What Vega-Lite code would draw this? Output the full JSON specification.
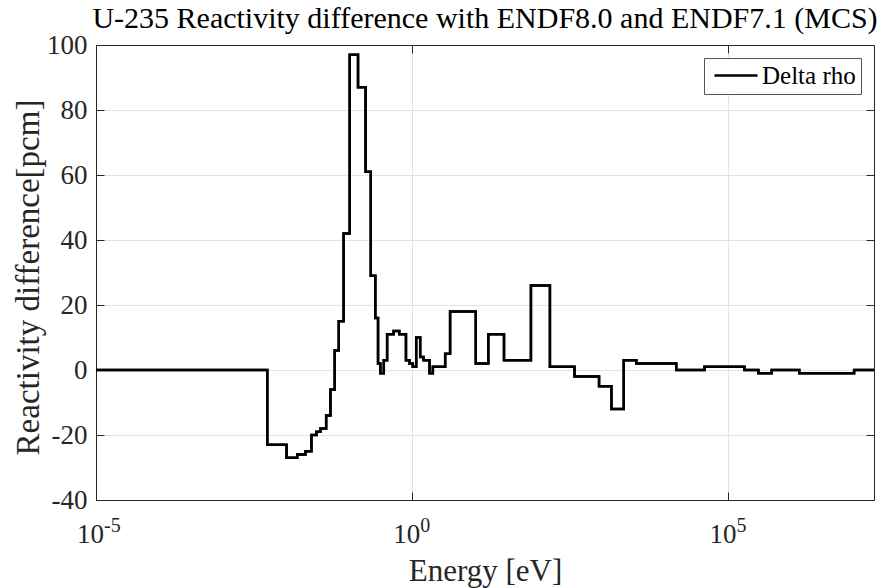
{
  "$schema": "https://vega.github.io/schema/vega-lite/v6.json",
  "width": 778,
  "height": 455,
  "autosize": {"type": "none"},
  "padding": {"left": 96, "top": 45, "right": 13, "bottom": 88},
  "background": "white",
  "title": {
    "text": "U-235 Reactivity difference with ENDF8.0 and ENDF7.1 (MCS)",
    "font": "Liberation Serif, Times New Roman, serif",
    "fontSize": 30,
    "fontWeight": "normal",
    "color": "black",
    "anchor": "middle",
    "offset": -3
  },
  "config": {
    "view": {"stroke": "#262626", "strokeWidth": 1},
    "axis": {
      "labelFont": "Liberation Serif, Times New Roman, serif",
      "labelFontSize": 27,
      "labelColor": "#262626",
      "titleFont": "Liberation Serif, Times New Roman, serif",
      "titleFontSize": 31,
      "titleFontWeight": "normal",
      "titleColor": "#262626",
      "domainColor": "#262626",
      "tickColor": "#262626",
      "tickWidth": 1,
      "gridColor": "#e3e3e3",
      "gridWidth": 1
    },
    "legend": {
      "labelFont": "Liberation Serif, Times New Roman, serif",
      "labelFontSize": 25,
      "labelColor": "black"
    }
  },
  "datasets": {
    "curve": [
      {"E": 0.00001, "rho": 0, "series": "Delta rho"},
      {"E": 0.00511, "rho": -23, "series": "Delta rho"},
      {"E": 0.0103, "rho": -27, "series": "Delta rho"},
      {"E": 0.0152, "rho": -26, "series": "Delta rho"},
      {"E": 0.0205, "rho": -25, "series": "Delta rho"},
      {"E": 0.0255, "rho": -20, "series": "Delta rho"},
      {"E": 0.0306, "rho": -19, "series": "Delta rho"},
      {"E": 0.0354, "rho": -18, "series": "Delta rho"},
      {"E": 0.0436, "rho": -14, "series": "Delta rho"},
      {"E": 0.0509, "rho": -6, "series": "Delta rho"},
      {"E": 0.0594, "rho": 6, "series": "Delta rho"},
      {"E": 0.0689, "rho": 15, "series": "Delta rho"},
      {"E": 0.0822, "rho": 42, "series": "Delta rho"},
      {"E": 0.1026, "rho": 97, "series": "Delta rho"},
      {"E": 0.139, "rho": 87, "series": "Delta rho"},
      {"E": 0.183, "rho": 61, "series": "Delta rho"},
      {"E": 0.221, "rho": 29, "series": "Delta rho"},
      {"E": 0.261, "rho": 16, "series": "Delta rho"},
      {"E": 0.288, "rho": 2, "series": "Delta rho"},
      {"E": 0.313, "rho": -1, "series": "Delta rho"},
      {"E": 0.355, "rho": 3, "series": "Delta rho"},
      {"E": 0.401, "rho": 11, "series": "Delta rho"},
      {"E": 0.507, "rho": 12, "series": "Delta rho"},
      {"E": 0.624, "rho": 11, "series": "Delta rho"},
      {"E": 0.796, "rho": 3, "series": "Delta rho"},
      {"E": 0.906, "rho": 2, "series": "Delta rho"},
      {"E": 1.02, "rho": 1, "series": "Delta rho"},
      {"E": 1.156, "rho": 10, "series": "Delta rho"},
      {"E": 1.337, "rho": 4, "series": "Delta rho"},
      {"E": 1.507, "rho": 3, "series": "Delta rho"},
      {"E": 1.875, "rho": -1, "series": "Delta rho"},
      {"E": 2.118, "rho": 1, "series": "Delta rho"},
      {"E": 3.32, "rho": 5, "series": "Delta rho"},
      {"E": 3.97, "rho": 18, "series": "Delta rho"},
      {"E": 10.1, "rho": 2, "series": "Delta rho"},
      {"E": 15.96, "rho": 11, "series": "Delta rho"},
      {"E": 28.25, "rho": 3, "series": "Delta rho"},
      {"E": 75.3, "rho": 26, "series": "Delta rho"},
      {"E": 150.3, "rho": 1, "series": "Delta rho"},
      {"E": 368, "rho": -2, "series": "Delta rho"},
      {"E": 899, "rho": -5, "series": "Delta rho"},
      {"E": 1413, "rho": -12, "series": "Delta rho"},
      {"E": 2208, "rho": 3, "series": "Delta rho"},
      {"E": 3499, "rho": 2, "series": "Delta rho"},
      {"E": 14962, "rho": 0, "series": "Delta rho"},
      {"E": 41783, "rho": 1, "series": "Delta rho"},
      {"E": 178649, "rho": 0, "series": "Delta rho"},
      {"E": 297167, "rho": -1, "series": "Delta rho"},
      {"E": 481948, "rho": 0, "series": "Delta rho"},
      {"E": 1318257, "rho": -1, "series": "Delta rho"},
      {"E": 9705099, "rho": 0, "series": "Delta rho"},
      {"E": 20000000, "rho": 0, "series": "Delta rho"}
    ],
    "ticklabels": [
      {"E": 0.00001, "base": "10", "exp": "-5"},
      {"E": 1, "base": "10", "exp": "0"},
      {"E": 100000, "base": "10", "exp": "5"}
    ]
  },
  "layer": [
    {
      "data": {"name": "curve"},
      "mark": {"type": "line", "interpolate": "step-after", "strokeWidth": 2.5, "clip": true},
      "encoding": {
        "x": {
          "field": "E",
          "type": "quantitative",
          "scale": {"type": "log", "domain": [0.00001, 20000000], "nice": false},
          "axis": {
            "orient": "bottom",
            "title": "Energy [eV]",
            "values": [0.00001, 1, 100000],
            "labels": false,
            "tickSize": -8,
            "titleY": 80,
            "titleBaseline": "alphabetic",
            "grid": true
          }
        },
        "y": {
          "field": "rho",
          "type": "quantitative",
          "scale": {"domain": [-40, 100], "nice": false},
          "axis": {
            "orient": "left",
            "title": "Reactivity difference[pcm]",
            "titleFontSize": 33,
            "values": [-40, -20, 0, 20, 40, 60, 80, 100],
            "labelExpr": "toString(datum.value)",
            "tickSize": -8,
            "labelPadding": 17,
            "titleX": -68,
            "titleY": 232,
            "titleBaseline": "middle",
            "grid": true
          }
        },
        "color": {
          "field": "series",
          "type": "nominal",
          "scale": {"range": ["black"]},
          "legend": {
            "title": null,
            "orient": "top-right",
            "offset": 13,
            "symbolType": "M-0.7,0H3.6",
            "symbolSize": 400,
            "symbolStrokeWidth": 2.5,
            "labelOffset": 28,
            "padding": 5,
            "strokeColor": "#555555",
            "fillColor": "white"
          }
        }
      }
    },
    {
      "data": {"name": "curve"},
      "mark": {"type": "line", "interpolate": "step-after", "strokeWidth": 2.5, "color": "black", "clip": true},
      "encoding": {
        "x": {
          "field": "E",
          "type": "quantitative",
          "axis": {
            "orient": "top",
            "title": null,
            "values": [0.00001, 1, 100000],
            "labels": false,
            "tickSize": -8,
            "grid": false
          }
        },
        "y": {
          "field": "rho",
          "type": "quantitative",
          "axis": {
            "orient": "right",
            "title": null,
            "values": [-40, -20, 0, 20, 40, 60, 80, 100],
            "labels": false,
            "tickSize": -8,
            "grid": false
          }
        }
      }
    },
    {
      "data": {"name": "ticklabels"},
      "mark": {"type": "text", "font": "Liberation Serif, Times New Roman, serif", "fontSize": 27, "color": "#262626", "align": "right", "baseline": "alphabetic", "dx": 8, "dy": 43},
      "encoding": {
        "x": {"field": "E", "type": "quantitative", "axis": null},
        "y": {"datum": -40, "type": "quantitative", "axis": null},
        "text": {"field": "base"}
      }
    },
    {
      "data": {"name": "ticklabels"},
      "mark": {"type": "text", "font": "Liberation Serif, Times New Roman, serif", "fontSize": 20, "color": "#262626", "align": "left", "baseline": "alphabetic", "dx": 8, "dy": 32},
      "encoding": {
        "x": {"field": "E", "type": "quantitative", "axis": null},
        "y": {"datum": -40, "type": "quantitative", "axis": null},
        "text": {"field": "exp"}
      }
    }
  ],
  "resolve": {"axis": {"x": "independent", "y": "independent"}}
}
